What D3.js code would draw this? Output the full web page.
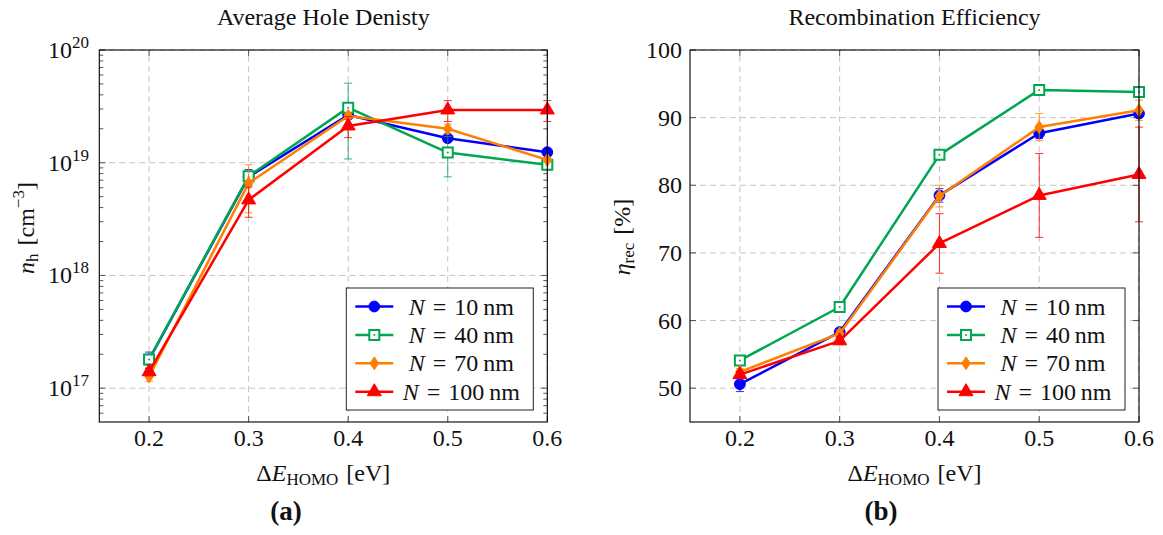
<!DOCTYPE html>
<html>
<head>
<meta charset="utf-8">
<script src="https://cdn.jsdelivr.net/npm/d3@7"></script>
<style>
  html, body { margin: 0; padding: 0; background: #fff; }
  svg { display: block; }
  text { font-family: "Liberation Serif", "DejaVu Serif", serif; fill: #111; }
</style>
</head>
<body>
<svg id="chart" width="1163" height="535"></svg>
<script>
// ---------------- data ----------------
const deltaE = [0.2, 0.3, 0.4, 0.5, 0.6];
const xTickLabels = ["0.2", "0.3", "0.4", "0.5", "0.6"];
const seriesN = [10, 40, 70, 100];
const seriesColors = ["#0000ff", "#00a650", "#ff8000", "#ff0000"];
const seriesMarkers = ["circle", "square", "diamond", "triangle"];

// Average hole density [cm^-3]
const densityN10  = [1.79e17, 7.5e18, 2.65e19, 1.65e19, 1.24e19];
const densityN40  = [1.80e17, 7.6e18, 3.08e19, 1.23e19, 9.6e18];
const densityN70  = [1.27e17, 6.6e18, 2.60e19, 2.00e19, 1.06e19];
const densityN100 = [1.40e17, 4.68e18, 2.12e19, 2.94e19, 2.94e19];
const densityErrN10  = [0.30e17, 1.2e18, 0.20e19, 0.10e19, 0.05e19];
const densityErrN40  = [0.20e17, 0.8e18, 2.00e19, 0.48e19, 0.05e19];
const densityErrN70  = [0.12e17, 3.0e18, 0.15e19, 0.20e19, 0.05e19];
const densityErrN100 = [0.11e17, 1.4e18, 0.45e19, 0.62e19, 0.62e19];
const densityTickExps = [17, 18, 19, 20];

// Recombination efficiency [%]
const effN10  = [50.6, 58.3, 78.5, 87.7, 90.6];
const effN40  = [54.1, 62.0, 84.5, 94.1, 93.8];
const effN70  = [52.4, 58.1, 78.4, 88.6, 91.1];
const effN100 = [52.0, 57.0, 71.4, 78.5, 81.6];
const effErrN10  = [1.1, 0.5, 1.0, 0.8, 0.5];
const effErrN40  = [0.3, 0.3, 0.3, 0.3, 0.3];
const effErrN70  = [0.5, 0.5, 1.6, 2.0, 1.5];
const effErrN100 = [0.5, 0.5, 4.4, 6.2, 7.0];
const effTicks = [50, 60, 70, 80, 90, 100];

// ---------------- drawing ----------------
const svg = d3.select("#chart");
svg.append("rect").attr("width", 1163).attr("height", 535).attr("fill", "#fff");

const FS = 24;
const SFS = 17;

function markerPath(type, cx, cy) {
  const p = d3.path();
  if (type === "circle") {
    p.arc(cx, cy, 5.4, 0, 2 * Math.PI);
  } else if (type === "square") {
    p.rect(cx - 5, cy - 5, 10, 10);
  } else if (type === "diamond") {
    p.moveTo(cx, cy - 6.4); p.lineTo(cx + 4.3, cy); p.lineTo(cx, cy + 6.4); p.lineTo(cx - 4.3, cy); p.closePath();
  } else {
    p.moveTo(cx, cy - 8); p.lineTo(cx + 7, cy + 4); p.lineTo(cx - 7, cy + 4); p.closePath();
  }
  return p.toString();
}

function drawMarker(g, type, color, cx, cy) {
  const m = g.append("path").attr("d", markerPath(type, cx, cy)).attr("stroke", color);
  if (type === "square") {
    m.attr("fill", "#fff").attr("stroke-width", 2);
    g.append("circle").attr("cx", cx).attr("cy", cy).attr("r", 1).attr("fill", color);
  } else {
    m.attr("fill", color).attr("stroke-width", 1);
  }
}

function drawPanel(cfg) {
  const g = svg.append("g");
  const x = d3.scaleLinear().domain([0.15, 0.6]).range([cfg.x0, cfg.x1]);
  const y = cfg.y;
  const [yb, yt] = [cfg.y1, cfg.y0];

  // grid
  const grid = g.append("g").attr("stroke", "#c4c4c4").attr("stroke-width", 1).attr("stroke-dasharray", "6,4");
  deltaE.forEach(v => grid.append("line").attr("x1", x(v)).attr("x2", x(v)).attr("y1", yb).attr("y2", yt));
  cfg.majorY.forEach(v => grid.append("line").attr("x1", cfg.x0).attr("x2", cfg.x1).attr("y1", y(v)).attr("y2", y(v)));

  // ticks (inside, all four sides)
  const ticks = g.append("g").attr("stroke", "#555").attr("stroke-width", 1);
  deltaE.forEach(v => {
    ticks.append("line").attr("x1", x(v)).attr("x2", x(v)).attr("y1", yb).attr("y2", yb - 6);
    ticks.append("line").attr("x1", x(v)).attr("x2", x(v)).attr("y1", yt).attr("y2", yt + 6);
  });
  cfg.majorY.forEach(v => {
    ticks.append("line").attr("x1", cfg.x0).attr("x2", cfg.x0 + 6).attr("y1", y(v)).attr("y2", y(v));
    ticks.append("line").attr("x1", cfg.x1).attr("x2", cfg.x1 - 6).attr("y1", y(v)).attr("y2", y(v));
  });
  (cfg.minorY || []).forEach(v => {
    ticks.append("line").attr("x1", cfg.x0).attr("x2", cfg.x0 + 4).attr("y1", y(v)).attr("y2", y(v));
    ticks.append("line").attr("x1", cfg.x1).attr("x2", cfg.x1 - 4).attr("y1", y(v)).attr("y2", y(v));
  });

  // x tick labels
  deltaE.forEach((v, i) => {
    g.append("text").attr("x", x(v)).attr("y", 446).attr("text-anchor", "middle")
      .attr("font-size", FS).text(xTickLabels[i]);
  });
  // y tick labels
  cfg.yLabels(g, y);

  // series
  cfg.series.forEach((s, si) => {
    const color = seriesColors[si];
    const sg = g.append("g");
    const eg = sg.append("g").attr("stroke", color).attr("stroke-width", 1).attr("opacity", 0.8);
    deltaE.forEach((v, i) => {
      const lo = y(s.values[i] - s.err[i]), hi = y(s.values[i] + s.err[i]);
      eg.append("line").attr("x1", x(v)).attr("x2", x(v)).attr("y1", lo).attr("y2", hi);
      eg.append("line").attr("x1", x(v) - 4).attr("x2", x(v) + 4).attr("y1", lo).attr("y2", lo);
      eg.append("line").attr("x1", x(v) - 4).attr("x2", x(v) + 4).attr("y1", hi).attr("y2", hi);
    });
    const line = d3.line().x((d, i) => x(deltaE[i])).y(d => y(d));
    sg.append("path").attr("d", line(s.values)).attr("fill", "none")
      .attr("stroke", color).attr("stroke-width", 2.5).attr("stroke-linejoin", "round");
    s.values.forEach((d, i) => drawMarker(sg, seriesMarkers[si], color, x(deltaE[i]), y(d)));
  });

  // axis frame
  g.append("rect").attr("x", cfg.x0).attr("y", cfg.y0).attr("width", cfg.x1 - cfg.x0)
    .attr("height", cfg.y1 - cfg.y0).attr("fill", "none").attr("stroke", "#000").attr("stroke-width", 1.1);

  // title
  g.append("text").attr("x", (cfg.x0 + cfg.x1) / 2).attr("y", 25).attr("text-anchor", "middle")
    .attr("font-size", FS).text(cfg.title);

  // x label
  const xl = g.append("text").attr("x", (cfg.x0 + cfg.x1) / 2).attr("y", 481).attr("text-anchor", "middle")
    .attr("font-size", FS);
  xl.append("tspan").text("Δ");
  xl.append("tspan").attr("font-style", "italic").text("E");
  xl.append("tspan").attr("font-size", SFS).attr("dy", 4).text("HOMO");
  xl.append("tspan").attr("dy", -4).text("\u2004[eV]");

  // y label
  cfg.yTitle(g);

  // panel tag
  g.append("text").attr("x", cfg.tagX).attr("y", 520).attr("text-anchor", "middle")
    .attr("font-size", 27).attr("font-weight", "bold").text(cfg.tag);

  // legend
  const lx = cfg.x1 - 14 - 187, ly = cfg.y1 - 12 - 122;
  const lg = g.append("g").attr("transform", `translate(${lx},${ly})`);
  lg.append("rect").attr("width", 187).attr("height", 122).attr("fill", "#fff")
    .attr("stroke", "#222").attr("stroke-width", 1);
  seriesN.forEach((n, i) => {
    const ry = 18.5 + i * 28.4;
    lg.append("line").attr("x1", 9).attr("x2", 47).attr("y1", ry).attr("y2", ry)
      .attr("stroke", seriesColors[i]).attr("stroke-width", 2.5);
    drawMarker(lg, seriesMarkers[i], seriesColors[i], 28, ry);
    const t = lg.append("text").attr("x", 115).attr("y", ry + 8).attr("text-anchor", "middle")
      .attr("font-size", FS);
    t.append("tspan").attr("font-style", "italic").text("N");
    t.append("tspan").text("\u2004=\u2004" + n + "\u2009nm");
  });
}

// ---- panel (a)
const minorDensity = [];
[16, 17, 18, 19].forEach(e => { for (let k = 2; k <= 9; k++) { const v = k * Math.pow(10, e); if (v > Math.pow(10, 16.7) && v < 1e20) minorDensity.push(v); } });

drawPanel({
  x0: 99.3, x1: 547.3, y0: 50, y1: 422,
  y: d3.scaleLog().domain([Math.pow(10, 16.7), 1e20]).range([422, 50]),
  majorY: densityTickExps.map(e => Math.pow(10, e)),
  minorY: minorDensity,
  title: "Average Hole Denisty",
  tag: "(a)", tagX: 286,
  series: [
    { values: densityN10, err: densityErrN10 },
    { values: densityN40, err: densityErrN40 },
    { values: densityN70, err: densityErrN70 },
    { values: densityN100, err: densityErrN100 }
  ],
  yLabels: (g, y) => {
    densityTickExps.forEach(e => {
      const t = g.append("text").attr("x", 89).attr("y", y(Math.pow(10, e)) + 8)
        .attr("text-anchor", "end").attr("font-size", FS);
      t.append("tspan").text("10");
      t.append("tspan").attr("font-size", SFS).attr("dy", -10).text(String(e));
    });
  },
  yTitle: (g) => {
    const t = g.append("text").attr("transform", "translate(34,228) rotate(-90)")
      .attr("text-anchor", "middle").attr("font-size", FS);
    t.append("tspan").attr("font-style", "italic").text("n");
    t.append("tspan").attr("font-size", SFS).attr("dy", 4).text("h");
    t.append("tspan").attr("dy", -4).text("\u2004[cm");
    t.append("tspan").attr("font-size", SFS).attr("dy", -10).text("−3");
    t.append("tspan").attr("dy", 10).text("]");
  }
});

// ---- panel (b)
drawPanel({
  x0: 690, x1: 1139, y0: 50, y1: 422,
  y: d3.scaleLinear().domain([45, 100]).range([422, 50]),
  majorY: effTicks,
  minorY: [],
  title: "Recombination Efficiency",
  tag: "(b)", tagX: 881,
  series: [
    { values: effN10, err: effErrN10 },
    { values: effN40, err: effErrN40 },
    { values: effN70, err: effErrN70 },
    { values: effN100, err: effErrN100 }
  ],
  yLabels: (g, y) => {
    effTicks.forEach(v => {
      g.append("text").attr("x", 682).attr("y", y(v) + 8).attr("text-anchor", "end")
        .attr("font-size", FS).text(String(v));
    });
  },
  yTitle: (g) => {
    const t = g.append("text").attr("transform", "translate(630,237) rotate(-90)")
      .attr("text-anchor", "middle").attr("font-size", FS);
    t.append("tspan").attr("font-style", "italic").text("η");
    t.append("tspan").attr("font-size", SFS).attr("dy", 4).text("rec");
    t.append("tspan").attr("dy", -4).text("\u2004[%]");
  }
});
</script>
</body>
</html>
